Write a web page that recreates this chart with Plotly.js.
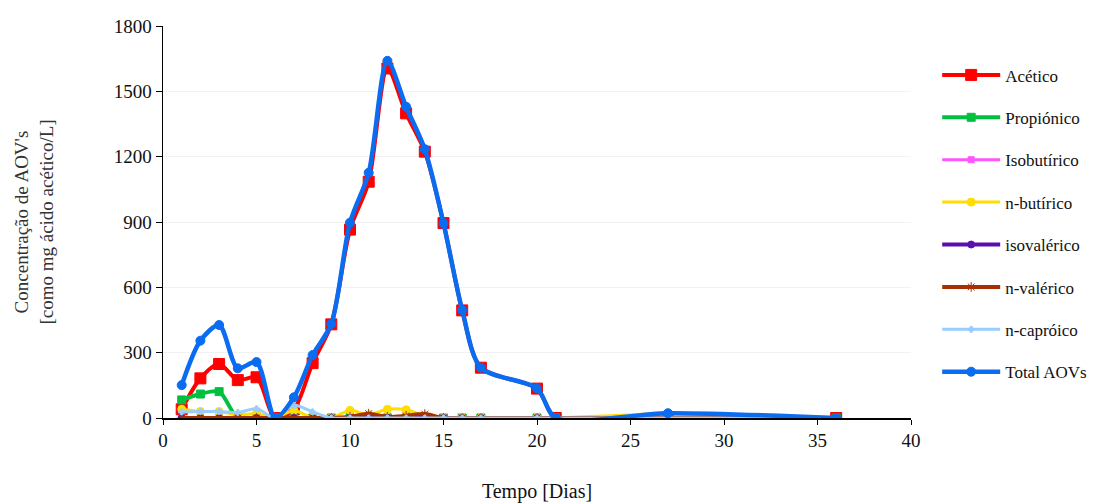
<!DOCTYPE html>
<html>
<head>
<meta charset="utf-8">
<script src="https://cdn.plot.ly/plotly-3.0.1.min.js"></script>
<style>html,body{margin:0;padding:0;background:#fff;}#chart{width:1120px;height:503px;}</style>
</head>
<body>
<div id="chart"></div>
<script>
var dias = [1, 2, 3, 4, 5, 6, 7, 8, 9, 10, 11, 12, 13, 14, 15, 16, 17, 20, 21, 27, 36];
var acetico      = [40, 182, 248, 174, 187, 0, 40, 252, 430, 865, 1085, 1605, 1399, 1223, 895, 494, 231, 135, 0, 0, 0];
var propionico   = [83, 110, 121, 0, 0, 0, 0, 0, 0, 0, 0, 0, 0, 0, 0, 0, 0, 0, 0, 0, 0];
var isobutirico  = [0, 0, 0, 0, 0, 0, 0, 0, 0, 0, 0, 0, 0, 0, 0, 0, 0, 0, 0, 0, 0];
var nbutirico    = [40, 30, 30, 15, 20, 0, 35, 0, 0, 35, 15, 40, 38, 10, 0, 0, 0, 0, 0, 20, 0];
var isovalerico  = [0, 0, 0, 0, 0, 0, 0, 0, 0, 0, 0, 0, 0, 0, 0, 0, 0, 0, 0, 0, 0];
var nvalerico    = [0, 0, 0, 0, 0, 0, 0, 0, 0, 5, 20, 5, 10, 18, 0, 0, 0, 0, 0, 0, 0];
var ncaproico    = [28, 30, 30, 25, 42, 0, 58, 28, 0, 0, 0, 0, 0, 0, 0, 0, 0, 0, 0, 0, 0];
var totalAOVs    = [151, 355, 427, 228, 257, 0, 95, 289, 432, 897, 1126, 1640, 1429, 1234, 894, 496, 231, 136, 0, 22, 0];

var nomes = ['Acético', 'Propiónico', 'Isobutírico', 'n-butírico', 'isovalérico', 'n-valérico', 'n-capróico', 'Total AOVs'];

var FONT = 'Liberation Serif, Times New Roman, serif';

function serie(nome, y, cor, larg, simb, tam, grp) {
  return {
    x: dias, y: y, name: nome, type: 'scatter', mode: 'lines+markers',
    legendgroup: grp,
    line: {color: cor, width: larg, shape: 'spline', smoothing: 0.8},
    marker: {color: cor, symbol: simb, size: tam, line: {color: cor, width: 1}}
  };
}

var data = [
  serie(nomes[0], acetico, '#ff0000', 4, 'square', 11, 'g0'),
  serie(nomes[1], propionico, '#00c040', 4, 'square', 8, 'g1'),
  serie(nomes[2], isobutirico, '#ff55ff', 3, 'square', 6, 'g2'),
  serie(nomes[3], nbutirico, '#ffdd00', 3, 'circle', 8, 'g3'),
  serie(nomes[4], isovalerico, '#5a10b0', 4, 'circle', 7, 'g4'),
  serie(nomes[5], nvalerico, '#a83000', 4, 'asterisk-open', 8, 'g5'),
  serie(nomes[6], ncaproico, '#99ccff', 3, 'cross', 5, 'g6'),
  serie(nomes[7], totalAOVs, '#0a6cf0', 4.5, 'circle', 9, 'g7')
];

var layout = {
  width: 1120, height: 503,
  margin: {l: 163, r: 209, t: 26, b: 85},
  paper_bgcolor: '#ffffff', plot_bgcolor: '#ffffff',
  font: {family: FONT, size: 19, color: '#111'},
  showlegend: true,
  legend: {
    x: 1.035, y: 0.92, xanchor: 'left', yanchor: 'top',
    font: {family: FONT, size: 17, color: '#111'},
    itemwidth: 58,
    tracegroupgap: 17.3, bgcolor: 'rgba(0,0,0,0)'
  },
  xaxis: {
    range: [0, 40], dtick: 5, tick0: 0,
    showgrid: false, zeroline: false,
    showline: true, linecolor: '#000', linewidth: 1.5,
    ticks: 'outside', ticklen: 5, tickcolor: '#000',
    tickfont: {family: FONT, size: 19, color: '#111'},
    title: {text: 'Tempo [Dias]', font: {family: FONT, size: 20, color: '#111'}, standoff: 34}
  },
  yaxis: {
    range: [0, 1800], dtick: 300, tick0: 0,
    showgrid: true, gridcolor: '#f2f2f2', gridwidth: 1, zeroline: false,
    showline: true, linecolor: '#000', linewidth: 1.5,
    ticks: 'outside', ticklen: 6, tickcolor: '#000',
    tickfont: {family: FONT, size: 19, color: '#111'},
    title: {text: 'Concentração de AOV\'s<br>[como mg ácido acético/L]', font: {family: FONT, size: 19, color: '#333'}, standoff: 55}
  }
};

Plotly.newPlot('chart', data, layout, {displayModeBar: false, staticPlot: true});
</script>
</body>
</html>
